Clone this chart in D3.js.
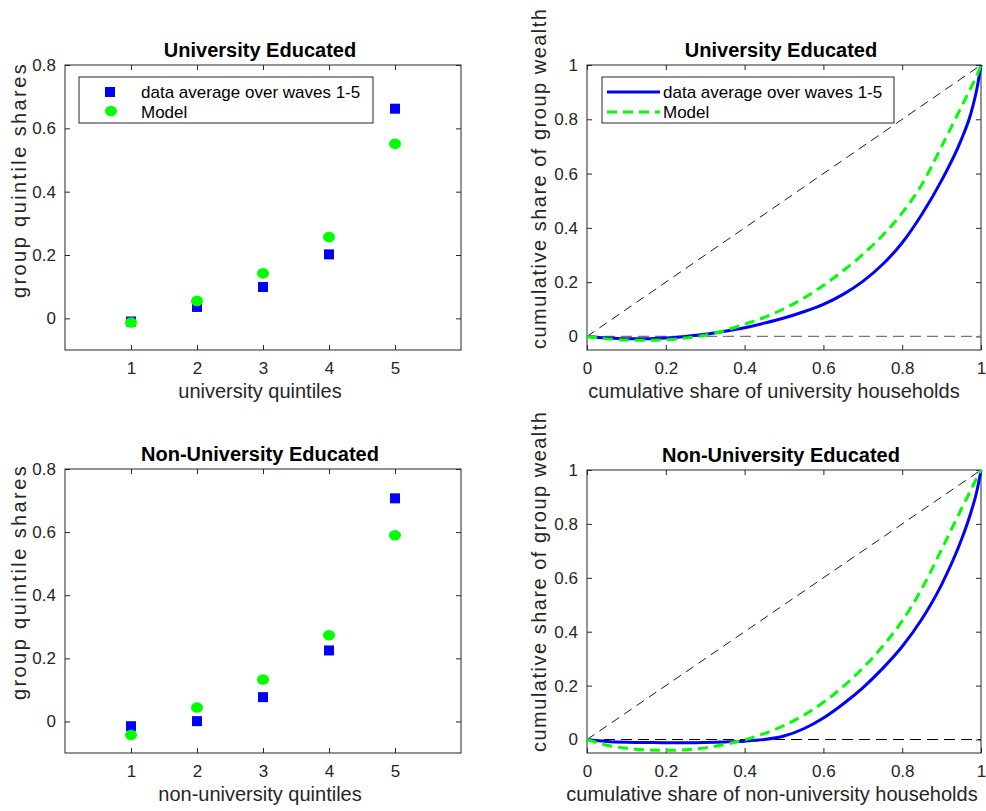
<!DOCTYPE html>
<html>
<head>
<meta charset="utf-8">
<script src="https://cdn.jsdelivr.net/npm/d3@7"></script>
<style>
  body { margin: 0; background: #fff; }
  svg { font-family: "Liberation Sans", Arial, sans-serif; }
  .tick text { fill: #262626; font-size: 17px; }
  .tick line { stroke: #262626; }
</style>
</head>
<body>
<div id="chart"></div>
<script>
// quintile shares
var quintiles = [1, 2, 3, 4, 5];
var uniDataShares = [-0.010, 0.036, 0.099, 0.202, 0.662];
var uniModelShares = [-0.013, 0.055, 0.142, 0.257, 0.551];
var nonDataShares = [-0.015, 0.001, 0.077, 0.225, 0.707];
var nonModelShares = [-0.043, 0.044, 0.133, 0.273, 0.590];

// lorenz curves
var lorenzX = [0, 0.05, 0.1, 0.15, 0.2, 0.25, 0.3, 0.35, 0.4, 0.45, 0.5, 0.55, 0.6, 0.65, 0.7, 0.75, 0.8, 0.85, 0.9, 0.95, 0.975, 0.99, 1];
var uniDataLorenz = [0, -0.006, -0.009, -0.009, -0.006, 0.000, 0.008, 0.019, 0.032, 0.049, 0.068, 0.091, 0.118, 0.155, 0.203, 0.265, 0.345, 0.450, 0.575, 0.725, 0.825, 0.915, 1.0];
var uniModelLorenz = [0, -0.009, -0.013, -0.014, -0.012, -0.006, 0.004, 0.022, 0.045, 0.070, 0.102, 0.141, 0.188, 0.242, 0.302, 0.372, 0.455, 0.560, 0.700, 0.845, 0.918, 0.962, 1.0];
var nonDataLorenz = [0, -0.007, -0.010, -0.011, -0.012, -0.012, -0.011, -0.009, -0.006, 0.000, 0.013, 0.040, 0.080, 0.132, 0.192, 0.263, 0.345, 0.447, 0.575, 0.740, 0.845, 0.925, 1.0];
var nonModelLorenz = [0, -0.021, -0.032, -0.038, -0.040, -0.038, -0.031, -0.018, -0.001, 0.022, 0.052, 0.090, 0.138, 0.196, 0.265, 0.345, 0.440, 0.560, 0.705, 0.855, 0.928, 0.972, 1.0];

var quintileTicks = [1, 2, 3, 4, 5];
var shareTicks = [0, 0.2, 0.4, 0.6, 0.8];
var lorenzXTicks = [0, 0.2, 0.4, 0.6, 0.8, 1];
var lorenzTicks = [0, 0.2, 0.4, 0.6, 0.8, 1];
var legendLabels = ["data average over waves 1-5", "Model"];

var width = 986, height = 811;
var blue = "#0000ff", green = "#00ff00", axisColor = "#262626";

var svg = d3.select("#chart").append("svg")
  .attr("width", width)
  .attr("height", height);

function drawAxes(box, xDomain, yDomain, xTicks, yTicks) {
  var x = d3.scaleLinear().domain(xDomain).range([box.left, box.right]);
  var y = d3.scaleLinear().domain(yDomain).range([box.bottom, box.top]);
  var g = svg.append("g");
  g.append("rect")
    .attr("x", box.left).attr("y", box.top)
    .attr("width", box.right - box.left).attr("height", box.bottom - box.top)
    .attr("fill", "#fff");

  g.append("g").attr("transform", "translate(0," + box.bottom + ")")
    .call(d3.axisBottom(x).tickValues(xTicks).tickSize(-5).tickSizeOuter(0).tickPadding(12).tickFormat(d3.format("")));
  g.append("g").attr("transform", "translate(0," + box.top + ")")
    .call(d3.axisTop(x).tickValues(xTicks).tickSize(-5).tickSizeOuter(0).tickFormat(""));
  g.append("g").attr("transform", "translate(" + box.left + ",0)")
    .call(d3.axisLeft(y).tickValues(yTicks).tickSize(-5).tickSizeOuter(0).tickPadding(9).tickFormat(d3.format("")));
  g.append("g").attr("transform", "translate(" + box.right + ",0)")
    .call(d3.axisRight(y).tickValues(yTicks).tickSize(-5).tickSizeOuter(0).tickFormat(""));
  g.selectAll(".domain").remove();

  g.append("rect")
    .attr("x", box.left).attr("y", box.top)
    .attr("width", box.right - box.left).attr("height", box.bottom - box.top)
    .attr("fill", "none").attr("stroke", axisColor).attr("stroke-width", 1);
  return { x: x, y: y, g: g };
}

function titles(box, title, xlabel, ylabel) {
  svg.append("text")
    .attr("x", (box.left + box.right) / 2 - 3).attr("y", box.top - 8)
    .attr("text-anchor", "middle")
    .style("font-size", "20px").style("font-weight", "bold")
    .text(title);
  svg.append("text")
    .attr("x", xlabel.x).attr("y", box.bottom + 48)
    .attr("text-anchor", "middle").attr("fill", axisColor)
    .style("font-size", "20px")
    .text(xlabel.text);
  svg.append("text")
    .attr("transform", "translate(" + ylabel.x + "," + ylabel.bottom + ") rotate(-90)")
    .attr("text-anchor", "start").attr("fill", axisColor)
    .style("font-size", "20px").style("letter-spacing", ylabel.spacing)
    .text(ylabel.text);
}

function quintilePanel(box, dataVals, modelVals, title, xlabel, ylabelBottom, withLegend) {
  var a = drawAxes(box, [0, 6], [-0.1, 0.8], quintileTicks, shareTicks);
  a.g.selectAll(".sq").data(quintiles).enter().append("rect")
    .attr("x", function (d) { return a.x(d) - 5; })
    .attr("y", function (d, i) { return a.y(dataVals[i]) - 5; })
    .attr("width", 10).attr("height", 10)
    .attr("fill", blue);
  a.g.selectAll(".dot").data(quintiles).enter().append("ellipse")
    .attr("cx", function (d) { return a.x(d); })
    .attr("cy", function (d, i) { return a.y(modelVals[i]); })
    .attr("rx", 6).attr("ry", 5.3)
    .attr("fill", green);
  titles(box, title, { x: 260, text: xlabel },
    { x: 26, bottom: ylabelBottom, spacing: "2.4px", text: "group quintile shares" });

  if (withLegend) {
    var lg = svg.append("g");
    lg.append("rect").attr("x", 79).attr("y", 77).attr("width", 294).attr("height", 46)
      .attr("fill", "#fff").attr("stroke", axisColor).attr("stroke-width", 1);
    lg.append("rect").attr("x", 105).attr("y", 87).attr("width", 10).attr("height", 10).attr("fill", blue);
    lg.append("ellipse").attr("cx", 111).attr("cy", 111).attr("rx", 6).attr("ry", 5.3).attr("fill", green);
    lg.selectAll("text").data(legendLabels).enter().append("text")
      .attr("x", 141).attr("y", function (d, i) { return 98 + i * 20; })
      .style("font-size", "17px").attr("fill", "#000")
      .text(function (d) { return d; });
  }
}

function lorenzPanel(box, dataVals, modelVals, title, xlabel, ylabelBottom, zeroColor, withLegend) {
  var a = drawAxes(box, [0, 1], [-0.05, 1], lorenzXTicks, lorenzTicks);
  a.g.append("line")
    .attr("x1", a.x(0)).attr("y1", a.y(0)).attr("x2", a.x(1)).attr("y2", a.y(0))
    .attr("stroke", zeroColor).attr("stroke-width", 1.2).attr("stroke-dasharray", "11,6");
  a.g.append("line")
    .attr("x1", a.x(0)).attr("y1", a.y(0)).attr("x2", a.x(1)).attr("y2", a.y(1))
    .attr("stroke", "#000").attr("stroke-width", 0.9).attr("stroke-dasharray", "9,6");
  var line = d3.line()
    .x(function (d) { return a.x(d[0]); })
    .y(function (d) { return a.y(d[1]); })
    .curve(d3.curveMonotoneX);
  a.g.append("path")
    .datum(lorenzX.map(function (v, i) { return [v, dataVals[i]]; }))
    .attr("d", line).attr("fill", "none")
    .attr("stroke", blue).attr("stroke-width", 3);
  a.g.append("path")
    .datum(lorenzX.map(function (v, i) { return [v, modelVals[i]]; }))
    .attr("d", line).attr("fill", "none")
    .attr("stroke", green).attr("stroke-width", 3).attr("stroke-dasharray", "10,6");
  titles(box, title, xlabel,
    { x: 546, bottom: ylabelBottom, spacing: "1.5px", text: "cumulative share of group wealth" });

  if (withLegend) {
    var lg = svg.append("g");
    lg.append("rect").attr("x", 602).attr("y", 77).attr("width", 292).attr("height", 46)
      .attr("fill", "#fff").attr("stroke", axisColor).attr("stroke-width", 1);
    lg.append("line").attr("x1", 607).attr("x2", 660).attr("y1", 92).attr("y2", 92)
      .attr("stroke", blue).attr("stroke-width", 3);
    lg.append("line").attr("x1", 607).attr("x2", 660).attr("y1", 112).attr("y2", 112)
      .attr("stroke", green).attr("stroke-width", 3).attr("stroke-dasharray", "10,6");
    lg.selectAll("text").data(legendLabels).enter().append("text")
      .attr("x", 663).attr("y", function (d, i) { return 98 + i * 20; })
      .style("font-size", "17px").attr("fill", "#000")
      .text(function (d) { return d; });
  }
}

quintilePanel({ left: 65, right: 461, top: 65, bottom: 350 }, uniDataShares, uniModelShares,
  "University Educated", "university quintiles", 298, true);
lorenzPanel({ left: 587, right: 981, top: 65, bottom: 350 }, uniDataLorenz, uniModelLorenz,
  "University Educated", { x: 774, text: "cumulative share of university households" }, 349, "#777", true);
quintilePanel({ left: 65, right: 461, top: 469, bottom: 753 }, nonDataShares, nonModelShares,
  "Non-University Educated", "non-university quintiles", 700, false);
lorenzPanel({ left: 587, right: 981, top: 470, bottom: 753 }, nonDataLorenz, nonModelLorenz,
  "Non-University Educated", { x: 772, text: "cumulative share of non-university households" }, 752, "#000", false);
</script>
</body>
</html>
